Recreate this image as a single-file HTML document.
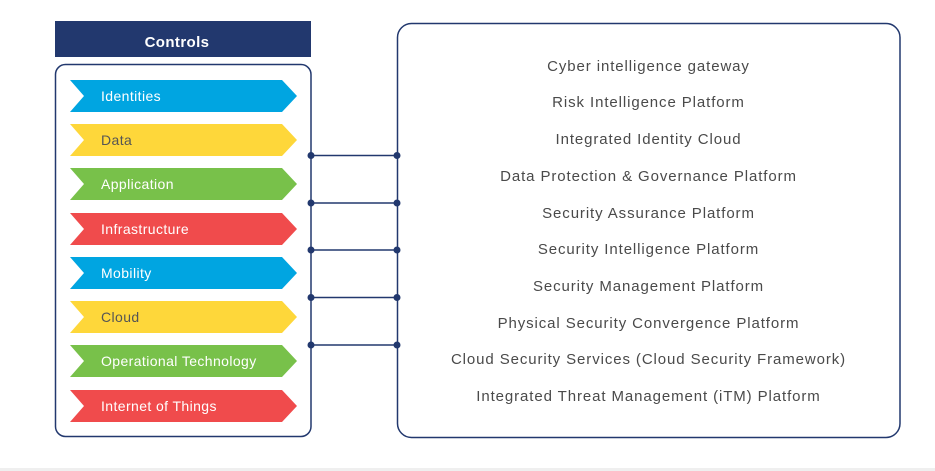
<!DOCTYPE html>
<html><head><meta charset="utf-8"><style>
html,body{margin:0;padding:0;background:#fff;}
body{width:935px;height:471px;position:relative;overflow:hidden;font-family:"Liberation Sans",sans-serif;}
.t{position:absolute;left:397px;width:503px;text-align:center;font-size:15px;color:#4a4a4a;line-height:18px;letter-spacing:0.9px;}
</style></head><body>
<svg width="935" height="471" style="position:absolute;left:0;top:0">
<rect x="0" y="468" width="935" height="3" fill="#efefef"/>
<rect x="55" y="21" width="256" height="36" fill="#22386e"/>
<text x="177" y="47" text-anchor="middle" font-family="Liberation Sans" font-weight="bold" font-size="15" letter-spacing="0.4" fill="#fff">Controls</text>
<rect x="55.5" y="64.5" width="255.5" height="372" rx="10" fill="none" stroke="#22386e" stroke-width="1.5"/>
<rect x="397.5" y="23.5" width="502.5" height="414" rx="14" fill="none" stroke="#22386e" stroke-width="1.5"/>
<g stroke="#22386e" stroke-width="1.6">
<line x1="311" y1="155.5" x2="397" y2="155.5"/>
<line x1="311" y1="203" x2="397" y2="203"/>
<line x1="311" y1="250" x2="397" y2="250"/>
<line x1="311" y1="297.5" x2="397" y2="297.5"/>
<line x1="311" y1="345" x2="397" y2="345"/>
</g>
<g fill="#22386e">
<circle cx="311" cy="155.5" r="3.5"/><circle cx="397" cy="155.5" r="3.5"/>
<circle cx="311" cy="203" r="3.5"/><circle cx="397" cy="203" r="3.5"/>
<circle cx="311" cy="250" r="3.5"/><circle cx="397" cy="250" r="3.5"/>
<circle cx="311" cy="297.5" r="3.5"/><circle cx="397" cy="297.5" r="3.5"/>
<circle cx="311" cy="345" r="3.5"/><circle cx="397" cy="345" r="3.5"/>
</g>
<g font-family="Liberation Sans" font-size="14" letter-spacing="0.4">
<g transform="translate(0,80)"><polygon points="70,0 282,0 297,16 282,32 70,32 84,16" fill="#00a5e1"/><text x="101" y="21" fill="#fff">Identities</text></g>
<g transform="translate(0,124)"><polygon points="70,0 282,0 297,16 282,32 70,32 84,16" fill="#fed73a"/><text x="101" y="21" fill="#555">Data</text></g>
<g transform="translate(0,168)"><polygon points="70,0 282,0 297,16 282,32 70,32 84,16" fill="#78c14a"/><text x="101" y="21" fill="#fff">Application</text></g>
<g transform="translate(0,213)"><polygon points="70,0 282,0 297,16 282,32 70,32 84,16" fill="#f04b4c"/><text x="101" y="21" fill="#fff">Infrastructure</text></g>
<g transform="translate(0,257)"><polygon points="70,0 282,0 297,16 282,32 70,32 84,16" fill="#00a5e1"/><text x="101" y="21" fill="#fff">Mobility</text></g>
<g transform="translate(0,301)"><polygon points="70,0 282,0 297,16 282,32 70,32 84,16" fill="#fed73a"/><text x="101" y="21" fill="#555">Cloud</text></g>
<g transform="translate(0,345)"><polygon points="70,0 282,0 297,16 282,32 70,32 84,16" fill="#78c14a"/><text x="101" y="21" fill="#fff">Operational Technology</text></g>
<g transform="translate(0,390)"><polygon points="70,0 282,0 297,16 282,32 70,32 84,16" fill="#f04b4c"/><text x="101" y="21" fill="#fff">Internet of Things</text></g>
</g>
</svg>
<div class="t" style="top:58px">Cyber intelligence gateway</div>
<div class="t" style="top:94px">Risk Intelligence Platform</div>
<div class="t" style="top:131px">Integrated Identity Cloud</div>
<div class="t" style="top:168px">Data Protection &amp; Governance Platform</div>
<div class="t" style="top:205px">Security Assurance Platform</div>
<div class="t" style="top:241px">Security Intelligence Platform</div>
<div class="t" style="top:278px">Security Management Platform</div>
<div class="t" style="top:315px">Physical Security Convergence Platform</div>
<div class="t" style="top:351px">Cloud Security Services (Cloud Security Framework)</div>
<div class="t" style="top:388px">Integrated Threat Management (iTM) Platform</div>
</body></html>
